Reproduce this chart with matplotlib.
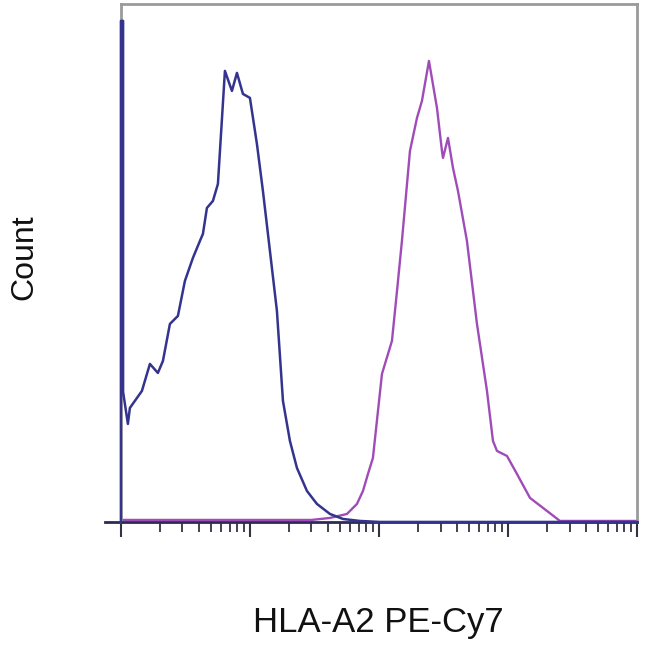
import numpy as np
import matplotlib
matplotlib.use("Agg")
import matplotlib.pyplot as plt
from matplotlib.lines import Line2D
from matplotlib.ticker import LogLocator, NullFormatter

plt.rcParams['font.family'] = ['Liberation Sans', 'DejaVu Sans']

# Control (blue) - fluorescence vs count
blue_x = [1.0, 1.0, 1.02, 1.04, 1.04, 1.133, 1.174, 1.455, 1.678, 1.935, 2.117, 2.398, 2.766,
          3.134, 3.615, 4.097, 4.322, 4.642, 5.167, 5.648, 6.401, 7.253, 7.932,
          8.826, 10.0, 11.33, 12.61, 14.29, 16.19, 18.03, 20.42, 23.14, 27.66,
          33.07, 41.7, 52.6, 71.2, 101.8, 10000.0]
blue_y = [0, 501, 501, 501, 130, 98, 114, 131, 158, 149, 161, 198, 206,
          241, 264, 281, 288, 314, 321, 338, 451, 431, 449,
          428, 424, 378, 331, 271, 211, 121, 81, 54, 31,
          18, 8, 3, 1, 0, 0]

# HLA-A2 PE-Cy7 stained (magenta)
mag_x = [1.0, 30.0, 41.7, 56.5, 67.5, 75.2, 82.2, 89.8, 105.5, 126.1, 138.0,
         150.7, 173.9, 197.1, 215.4, 244.1, 281.6, 307.8, 313.6, 342.8, 374.7,
         409.7, 480.8, 575.0, 687.5, 765.0, 822.0, 982.0, 1174.0, 1482.0,
         2006.0, 2529.0, 10000.0]
mag_y = [2, 2, 4, 8, 18, 31, 48, 64, 148, 181, 231,
         281, 371, 404, 421, 461, 414, 371, 364, 384, 354,
         331, 281, 198, 131, 81, 71, 66, 48, 24,
         11, 1, 1]

blue_color = "#34348e"
mag_color = "#a04cb8"

fig = plt.figure(figsize=(6.5, 6.5), dpi=100)
ax = fig.add_axes([0.186, 0.197, 0.794, 0.797])

ax.plot(mag_x, mag_y, color=mag_color, lw=1.7, solid_joinstyle='round')
ax.plot(blue_x, blue_y, color=blue_color, lw=1.8, solid_joinstyle='round', clip_on=False, zorder=3)

ax.set_xscale('log')
ax.set_xlim(1, 10000)
ax.set_ylim(0, 518)

ax.xaxis.set_major_locator(LogLocator(base=10, numticks=10))
ax.xaxis.set_minor_locator(LogLocator(base=10, subs=np.arange(2, 10), numticks=100))
ax.xaxis.set_major_formatter(NullFormatter())
ax.xaxis.set_minor_formatter(NullFormatter())
ax.set_yticks([])
ax.tick_params(axis='x', which='major', direction='out', length=11, width=1.5, color='#333344')
ax.tick_params(axis='x', which='minor', direction='out', length=7, width=1.3, color='#333344')

for s in ['top', 'right', 'left']:
    ax.spines[s].set_color('#9a9a9a')
    ax.spines[s].set_linewidth(2)
ax.spines['bottom'].set_color('#2a2a55')
ax.spines['bottom'].set_linewidth(2)

# small overhang of the x axis line to the left
ax.add_line(Line2D([-0.03, 0], [0, 0], transform=ax.transAxes, color='#2a2a55',
                   lw=2, clip_on=False))

fig.text(0.582, 0.043, "HLA-A2 PE-Cy7", ha='center', va='center', fontsize=25, color='#111111')
fig.text(0.038, 0.605, "Count", ha='center', va='center', rotation=90, fontsize=23, color='#111111')

fig.savefig("out.png", dpi=100, facecolor='white')
